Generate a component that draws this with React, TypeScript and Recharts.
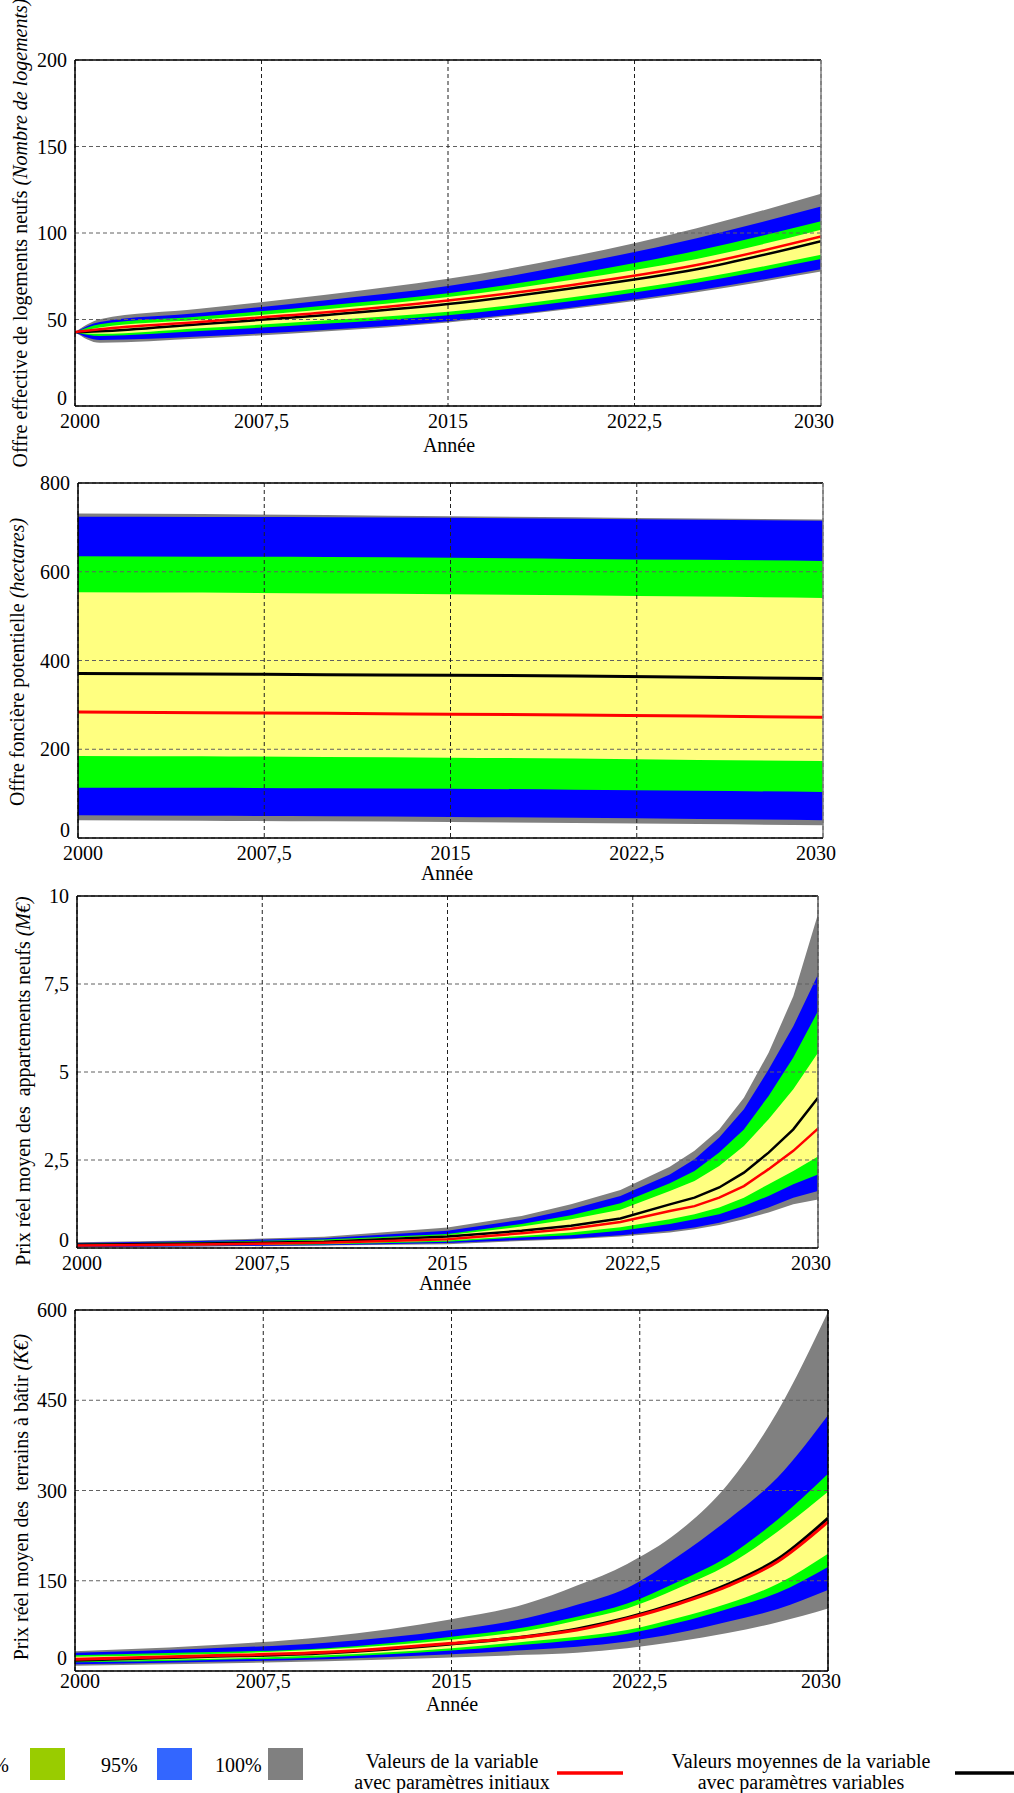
import React from "react";
import {
  ComposedChart,
  Area,
  Line,
  XAxis,
  YAxis,
  CartesianGrid,
  ReferenceLine,
} from "recharts";

const FONT = "'Liberation Serif', 'Times New Roman', serif";

const xTicks = [2000, 2007.5, 2015, 2022.5, 2030];

// Offre effective de logements neufs
const years1 = [2000, 2001, 2005, 2010, 2015, 2020, 2025, 2030];
const logGrayHi = [42.7, 50.2, 56.2, 64.2, 73.5, 86.5, 102.8, 122.7];
const logBlueHi = [42.7, 48.6, 53.8, 61.0, 69.3, 81.8, 97.0, 115.3];
const logGreenHi = [42.7, 47.3, 51.8, 58.0, 65.2, 76.2, 89.8, 106.8];
const logYellowHi = [42.7, 45.4, 49.8, 55.8, 63.0, 73.0, 85.0, 101.9];
const logYellowLo = [42.7, 41.7, 44.9, 49.4, 54.5, 62.8, 73.5, 87.4];
const logGreenLo = [42.7, 40.5, 43.3, 47.5, 52.5, 60.7, 71.3, 84.9];
const logBlueLo = [42.7, 38.2, 40.2, 44.0, 49.0, 57.0, 66.8, 79.1];
const logGrayLo = [42.7, 36.6, 39.0, 43.1, 48.3, 56.2, 65.8, 77.7];
const logMean = [42.7, 43.2, 47.3, 52.5, 59.0, 68.0, 79.0, 95.3];
const logInitial = [42.7, 44.4, 48.6, 54.0, 61.0, 70.0, 81.5, 98.0];

// Offre fonciere potentielle
const years2 = [2000, 2005, 2010, 2015, 2020, 2025, 2030];
const fonGrayHi = [731, 730, 728, 725, 723, 720, 718];
const fonBlueHi = [724, 723.5, 723, 721.5, 719.5, 717, 714.8];
const fonGreenHi = [635, 634, 633, 631.5, 629, 627, 624.5];
const fonYellowHi = [554, 553, 551, 549.5, 547, 544, 541];
const fonYellowLo = [185, 184, 182.5, 181, 179, 176, 173.5];
const fonGreenLo = [113.5, 113, 112, 111, 109, 106.5, 103.7];
const fonBlueLo = [51, 50, 49, 47.5, 45.5, 43, 40];
const fonGrayLo = [40, 39, 37.5, 36, 34, 31.5, 28.6];
const fonMean = [370.5, 369.5, 368, 367, 365, 362, 359.5];
const fonInitial = [284, 282.5, 281, 279, 277, 275, 272];

// Prix reel moyen des appartements neufs
const years3 = [2000, 2005, 2010, 2015, 2018, 2020, 2022, 2024, 2025, 2026, 2027, 2028, 2029, 2030];
const aptGrayHi = [0.16, 0.22, 0.32, 0.58, 0.91, 1.24, 1.65, 2.31, 2.76, 3.37, 4.27, 5.55, 7.15, 9.49];
const aptBlueHi = [0.14, 0.2, 0.28, 0.49, 0.8, 1.1, 1.48, 2.09, 2.52, 3.14, 3.94, 5.07, 6.3, 7.77];
const aptGreenHi = [0.12, 0.17, 0.24, 0.4, 0.68, 0.93, 1.27, 1.84, 2.19, 2.71, 3.37, 4.32, 5.41, 6.73];
const aptYellowHi = [0.11, 0.15, 0.21, 0.36, 0.61, 0.82, 1.09, 1.62, 1.9, 2.33, 2.9, 3.66, 4.51, 5.55];
const aptYellowLo = [0.06, 0.08, 0.12, 0.21, 0.34, 0.44, 0.59, 0.82, 0.96, 1.15, 1.43, 1.81, 2.19, 2.6];
const aptGreenLo = [0.05, 0.07, 0.1, 0.18, 0.3, 0.36, 0.49, 0.68, 0.82, 0.96, 1.19, 1.48, 1.81, 2.09];
const aptBlueLo = [0.03, 0.05, 0.08, 0.14, 0.23, 0.27, 0.36, 0.49, 0.58, 0.72, 0.91, 1.15, 1.43, 1.62];
const aptGrayLo = [0.02, 0.04, 0.07, 0.11, 0.2, 0.25, 0.33, 0.44, 0.53, 0.65, 0.82, 1.01, 1.24, 1.38];
const aptMean = [0.09, 0.13, 0.18, 0.33, 0.49, 0.63, 0.84, 1.24, 1.43, 1.72, 2.14, 2.71, 3.37, 4.27];
const aptInitial = [0.07, 0.1, 0.15, 0.25, 0.42, 0.55, 0.74, 1.05, 1.19, 1.43, 1.76, 2.24, 2.76, 3.39];

// Prix reel moyen des terrains a batir
const years4 = [2000, 2005, 2010, 2015, 2018, 2020, 2022, 2024, 2026, 2028, 2030];
const terGrayHi = [33, 42, 57, 86, 112, 142, 178, 230, 310, 432, 597];
const terBlueHi = [30.4, 37, 47, 68, 88, 110, 138, 190, 251, 322, 425];
const terGreenHi = [26, 31, 38, 57, 73, 90, 112, 148, 190, 252, 328];
const terYellowHi = [23.8, 28, 36, 52, 67, 84, 104, 137, 176, 232, 298];
const terYellowLo = [16.1, 20, 26, 37.7, 49, 57, 68, 88, 112, 145, 195];
const terGreenLo = [14.4, 18, 23, 34, 44, 51.5, 62, 80, 103, 130, 173];
const terBlueLo = [11.1, 15, 19.5, 28, 35, 40.4, 49, 63, 82, 103, 134.5];
const terGrayLo = [8.9, 12, 16, 22.5, 27, 30.5, 38, 49, 63, 81, 104];
const terMean = [17.7, 23.5, 30, 45, 57.5, 70, 88.5, 113, 144, 186, 254];
const terInitial = [19.4, 25, 31, 46, 57, 68, 87, 111, 141, 182, 248];

const legendBands = [
  { label: "75%", color: "#99cc00" },
  { label: "95%", color: "#3366ff" },
  { label: "100%", color: "#808080" },
];
const legendLines = [
  { lines: ["Valeurs de la variable", "avec paramètres initiaux"], color: "#ff0000" },
  { lines: ["Valeurs moyennes de la variable", "avec paramètres variables"], color: "#000000" },
];

function buildRows(
  years: number[],
  grayLo: number[], grayHi: number[],
  blueLo: number[], blueHi: number[],
  greenLo: number[], greenHi: number[],
  yellowLo: number[], yellowHi: number[],
  mean: number[], initial: number[]
) {
  return years.map((year, i) => ({
    year,
    gray: [grayLo[i], grayHi[i]],
    blue: [blueLo[i], blueHi[i]],
    green: [greenLo[i], greenHi[i]],
    yellow: [yellowLo[i], yellowHi[i]],
    mean: mean[i],
    initial: initial[i],
  }));
}

const rows1 = buildRows(years1, logGrayLo, logGrayHi, logBlueLo, logBlueHi, logGreenLo, logGreenHi, logYellowLo, logYellowHi, logMean, logInitial);
const rows2 = buildRows(years2, fonGrayLo, fonGrayHi, fonBlueLo, fonBlueHi, fonGreenLo, fonGreenHi, fonYellowLo, fonYellowHi, fonMean, fonInitial);
const rows3 = buildRows(years3, aptGrayLo, aptGrayHi, aptBlueLo, aptBlueHi, aptGreenLo, aptGreenHi, aptYellowLo, aptYellowHi, aptMean, aptInitial);
const rows4 = buildRows(years4, terGrayLo, terGrayHi, terBlueLo, terBlueHi, terGreenLo, terGreenHi, terYellowLo, terYellowHi, terMean, terInitial);

const fmt = (v: number) => String(v).replace(".", ",");

function XTick(props: any) {
  const { x, y, payload, lift = 0 } = props;
  const v = payload.value;
  const shift = v === 2000 ? 5 : v === 2030 ? -7 : 0;
  return (
    <text x={x + shift} y={y - lift} dy="0.71em" textAnchor="middle" fontFamily={FONT} fontSize={20} fill="#000">
      {fmt(v)}
    </text>
  );
}

function YTick(props: any) {
  const { x, y, payload, zeroLift = 8 } = props;
  const v = payload.value;
  return (
    <text x={x} y={v === 0 ? y - zeroLift : y} dy="0.355em" textAnchor="end" fontFamily={FONT} fontSize={20} fill="#000">
      {fmt(v)}
    </text>
  );
}

function YTitle({ cx, cy, main, unit }: any) {
  return (
    <text
      transform={`translate(${cx},${cy}) rotate(-90)`}
      textAnchor="middle"
      dy="0.35em"
      fontFamily={FONT}
      fontSize={20}
      fill="#000"
      style={{ whiteSpace: "pre" }}
    >
      {main}
      <tspan fontStyle="italic">{unit}</tspan>
    </text>
  );
}

function XTitle({ cx, cy }: any) {
  return (
    <text x={cx} y={cy} dy="0.3em" textAnchor="middle" fontFamily={FONT} fontSize={20} fill="#000">
      Année
    </text>
  );
}

type BandChartProps = {
  data: any[];
  top: number;
  height: number;
  plotTop: number;
  plotBottom: number;
  plotLeft: number;
  plotRight: number;
  yMax: number;
  yTicks: number[];
  curve: "monotone" | "linear";
  lineWidth: number;
  rightStroke: string;
  main: string;
  unit: string;
  titleX: number;
  titleY: number;
  anneeX: number;
  anneeY: number;
  tickLift?: number;
  zeroLift?: number;
};

function BandChart(p: BandChartProps) {
  const width = 1014;
  const xAxisHeight = 30;
  return (
    <div style={{ position: "absolute", left: 0, top: p.top, width, height: p.height, fontFamily: FONT }}>
      <ComposedChart
        width={width}
        height={p.height}
        data={p.data}
        margin={{
          top: p.plotTop,
          right: width - p.plotRight,
          bottom: p.height - p.plotBottom - xAxisHeight,
          left: 0,
        }}
      >
        <XAxis
          dataKey="year"
          type="number"
          domain={[2000, 2030]}
          ticks={xTicks}
          allowDataOverflow
          height={xAxisHeight}
          tickLine={false}
          tickSize={6}
          tickMargin={2}
          axisLine={{ stroke: "#000", strokeWidth: 1.5 }}
          tick={<XTick lift={p.tickLift ?? 0} />}
          label={<XTitle cx={p.anneeX} cy={p.anneeY} />}
        />
        <YAxis
          type="number"
          domain={[0, p.yMax]}
          ticks={p.yTicks}
          allowDataOverflow
          width={p.plotLeft}
          tickLine={false}
          tickSize={6}
          tickMargin={2}
          axisLine={{ stroke: "#000", strokeWidth: 1.5 }}
          tick={<YTick zeroLift={p.zeroLift ?? 8} />}
          label={<YTitle cx={p.titleX} cy={p.titleY} main={p.main} unit={p.unit} />}
        />
        <Area type={p.curve} dataKey="gray" stroke="none" fill="#808080" fillOpacity={1} isAnimationActive={false} dot={false} activeDot={false} />
        <Area type={p.curve} dataKey="blue" stroke="none" fill="#0000ff" fillOpacity={1} isAnimationActive={false} dot={false} activeDot={false} />
        <Area type={p.curve} dataKey="green" stroke="none" fill="#00ff00" fillOpacity={1} isAnimationActive={false} dot={false} activeDot={false} />
        <Area type={p.curve} dataKey="yellow" stroke="none" fill="#ffff80" fillOpacity={1} isAnimationActive={false} dot={false} activeDot={false} />
        <CartesianGrid vertical={false} stroke="#606060" strokeDasharray="4 3" {...({ zIndex: 150 } as any)} />
        <CartesianGrid horizontal={false} stroke="#202020" strokeDasharray="4 3" {...({ zIndex: 150 } as any)} />
        <Line type={p.curve} dataKey="mean" stroke="#000000" strokeWidth={p.lineWidth} dot={false} activeDot={false} isAnimationActive={false} />
        <Line type={p.curve} dataKey="initial" stroke="#ff0000" strokeWidth={p.lineWidth} dot={false} activeDot={false} isAnimationActive={false} />
        <ReferenceLine y={p.yMax} stroke="#000" strokeWidth={1.5} />
        <ReferenceLine x={2030} stroke={p.rightStroke} strokeWidth={1.5} />
      </ComposedChart>
    </div>
  );
}

function Legend() {
  const bandX = [{ text: 9, box: 30 }, { text: 101, box: 157 }, { text: 215, box: 268 }];
  const lineX = [{ text: 452, x1: 557, x2: 623 }, { text: 801, x1: 955, x2: 1014 }];
  return (
    <svg width={1014} height={53} style={{ position: "absolute", left: 0, top: 1740 }}>
      {legendBands.map((b, i) => (
        <g key={b.label}>
          <text
            x={bandX[i].text}
            y={25}
            dy="0.35em"
            textAnchor={i === 0 ? "end" : "start"}
            fontFamily={FONT}
            fontSize={20}
            fill="#000"
          >
            {b.label}
          </text>
          <rect x={bandX[i].box} y={8} width={35} height={32} fill={b.color} />
        </g>
      ))}
      {legendLines.map((l, i) => (
        <g key={i}>
          <text x={lineX[i].text} y={28} textAnchor="middle" fontFamily={FONT} fontSize={20} fill="#000">
            <tspan x={lineX[i].text} dy={0}>{l.lines[0]}</tspan>
            <tspan x={lineX[i].text} dy={21}>{l.lines[1]}</tspan>
          </text>
          <line x1={lineX[i].x1} x2={lineX[i].x2} y1={33} y2={33} stroke={l.color} strokeWidth={3.5} />
        </g>
      ))}
    </svg>
  );
}

export default function App() {
  return (
    <div style={{ position: "absolute", left: 0, top: 0, width: 1014, height: 1793, background: "#fff", overflow: "hidden" }}>
      <BandChart
        data={rows1}
        top={0}
        height={470}
        plotTop={60}
        plotBottom={406}
        plotLeft={75}
        plotRight={821}
        yMax={200}
        yTicks={[0, 50, 100, 150, 200]}
        curve="monotone"
        lineWidth={2.5}
        rightStroke="#808080"
        main="Offre effective de logements neufs "
        unit="(Nombre de logements)"
        titleX={20}
        titleY={233}
        anneeX={449}
        anneeY={446}
      />
      <BandChart
        data={rows2}
        top={470}
        height={430}
        plotTop={13}
        plotBottom={368}
        plotLeft={78}
        plotRight={823}
        yMax={800}
        yTicks={[0, 200, 400, 600, 800]}
        curve="monotone"
        lineWidth={3}
        rightStroke="#808080"
        main="Offre foncière potentielle "
        unit="(hectares)"
        titleX={17}
        titleY={192}
        anneeX={447}
        anneeY={404}
      />
      <BandChart
        data={rows3}
        top={880}
        height={430}
        plotTop={16}
        plotBottom={368}
        plotLeft={77}
        plotRight={818}
        yMax={10}
        yTicks={[0, 2.5, 5, 7.5, 10]}
        curve="linear"
        lineWidth={2.5}
        rightStroke="#606060"
        main="Prix réel moyen des  appartements neufs "
        unit="(M€)"
        titleX={23}
        titleY={201}
        anneeX={445}
        anneeY={404}
      />
      <BandChart
        data={rows4}
        top={1300}
        height={440}
        plotTop={10}
        plotBottom={371}
        plotLeft={75}
        plotRight={828}
        yMax={600}
        yTicks={[0, 150, 300, 450, 600]}
        curve="monotone"
        lineWidth={3}
        rightStroke="#000"
        main="Prix réel moyen des  terrains à bâtir "
        unit="(K€)"
        titleX={21}
        titleY={197}
        anneeX={452}
        anneeY={405}
        tickLift={5}
        zeroLift={13}
      />
      <Legend />
    </div>
  );
}
